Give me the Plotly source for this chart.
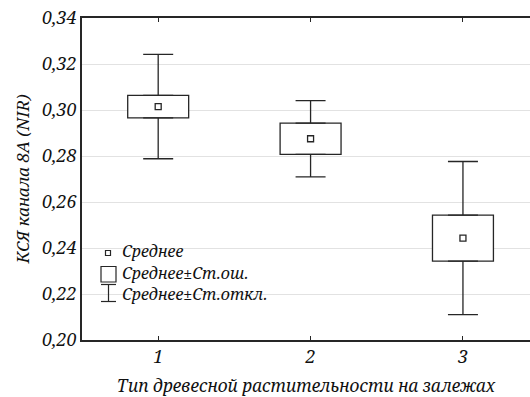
import plotly.graph_objects as go

# ---- data ----
categories = [1, 2, 3]
means = [0.3015, 0.2875, 0.2443]
std_errors = [0.0049, 0.0068, 0.0100]
std_devs = [0.0227, 0.0166, 0.0333]
y_ticks = [0.20, 0.22, 0.24, 0.26, 0.28, 0.30, 0.32, 0.34]
legend_labels = ["Среднее", "Среднее±Ст.ош.", "Среднее±Ст.откл."]
x_title = "Тип древесной растительности на залежах"
y_title = "КСЯ канала 8А (NIR)"

q1 = [m - s for m, s in zip(means, std_errors)]
q3 = [m + s for m, s in zip(means, std_errors)]
box_h = [2 * s for s in std_errors]
upper_w = [d - s for d, s in zip(std_devs, std_errors)]
zeros = [0 for _ in categories]

FONT = "Noto Serif"
LINE = "#262626"

fig = go.Figure()
# SE boxes
fig.add_trace(go.Bar(
    x=categories, base=q1, y=box_h, width=0.4,
    marker=dict(color="white", line=dict(color=LINE, width=1.3)),
    showlegend=False, hoverinfo="skip",
))
# upper SD whiskers (from box top)
fig.add_trace(go.Scatter(
    x=categories, y=q3, mode="markers", marker=dict(size=1, opacity=0),
    error_y=dict(type="data", array=upper_w, arrayminus=zeros, symmetric=False,
                 width=15, thickness=1.3, color=LINE),
    showlegend=False, hoverinfo="skip",
))
# lower SD whiskers (from box bottom)
fig.add_trace(go.Scatter(
    x=categories, y=q1, mode="markers", marker=dict(size=1, opacity=0),
    error_y=dict(type="data", array=zeros, arrayminus=upper_w, symmetric=False,
                 width=15, thickness=1.3, color=LINE),
    showlegend=False, hoverinfo="skip",
))
# means
fig.add_trace(go.Scatter(
    x=categories, y=means, mode="markers",
    marker=dict(symbol="square-open", size=6, color=LINE, line=dict(width=1.3)),
    showlegend=False,
))

L, R, T, B = 82, 0, 18, 57
W, H = 530, 397
pw, ph = W - L - R, H - T - B


def px(x):
    return (x - L) / pw


def py(y):
    return (H - B - y) / ph


shapes = []
# legend symbols
shapes.append(dict(type="rect", xref="paper", yref="paper",
                   x0=px(105.5), x1=px(110.5), y0=py(255.5), y1=py(250.5),
                   line=dict(color=LINE, width=1.2)))
shapes.append(dict(type="rect", xref="paper", yref="paper",
                   x0=px(101), x1=px(116), y0=py(282), y1=py(266.5),
                   line=dict(color=LINE, width=1.2)))
shapes.append(dict(type="line", xref="paper", yref="paper",
                   x0=px(108.5), x1=px(108.5), y0=py(301.5), y1=py(284.5),
                   line=dict(color=LINE, width=1.2)))
shapes.append(dict(type="line", xref="paper", yref="paper",
                   x0=px(101), x1=px(116), y0=py(284.5), y1=py(284.5),
                   line=dict(color=LINE, width=1.2)))
shapes.append(dict(type="line", xref="paper", yref="paper",
                   x0=px(101), x1=px(116), y0=py(301.5), y1=py(301.5),
                   line=dict(color=LINE, width=1.2)))

annotations = []
for lbl, yy in zip(legend_labels, [251, 273, 294]):
    annotations.append(dict(
        text=lbl, xref="paper", yref="paper", x=px(120), y=py(yy),
        xanchor="left", yanchor="middle", showarrow=False,
        font=dict(family=FONT, size=16, color="#111", style="italic"),
    ))

fig.update_layout(
    width=W, height=H,
    margin=dict(l=L, r=R, t=T, b=B, pad=0),
    paper_bgcolor="white", plot_bgcolor="white",
    separators=", ",
    font=dict(family=FONT, size=18, color="#111", style="italic"),
    shapes=shapes, annotations=annotations,
    xaxis=dict(
        range=[0.5, 3.44], tickvals=categories, ticktext=[str(c) for c in categories],
        showline=True, linecolor=LINE, linewidth=1.5, mirror="ticks",
        ticks="inside", ticklen=4, tickcolor=LINE, showgrid=False, zeroline=False,
        tickfont=dict(family=FONT, size=18, style="italic"),
        title=dict(text=x_title, standoff=13,
                   font=dict(family=FONT, size=17.3, style="italic")),
    ),
    yaxis=dict(
        range=[0.20, 0.34], tickvals=y_ticks, tickformat=".2f",
        showline=True, linecolor=LINE, linewidth=1.5,
        ticks="", showgrid=True, gridcolor="#e2e2e2", gridwidth=1, zeroline=False,
        tickfont=dict(family=FONT, size=18, style="italic"),
        title=dict(text=y_title, standoff=8,
                   font=dict(family=FONT, size=17, style="italic")),
    ),
)

fig.write_html("out.html")
